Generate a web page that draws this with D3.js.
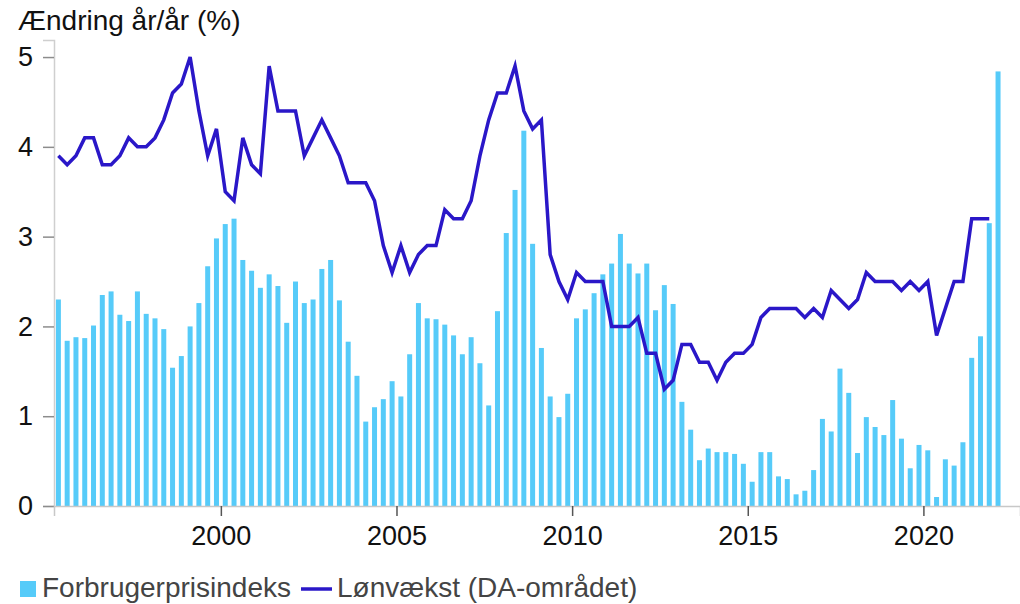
<!DOCTYPE html>
<html>
<head>
<meta charset="utf-8">
<script src="https://cdn.jsdelivr.net/npm/d3@7"></script>
<style>
  body { margin: 0; background: #fff; }
  svg text { font-family: "Liberation Sans", Arial, sans-serif; }
</style>
</head>
<body>
<div id="main"></div>
<script>
// quarterly, first bar = 1995 Q2
var startYear = 1995, startQuarter = 2;

var cpi = [2.30, 1.84, 1.88, 1.87, 2.01, 2.35, 2.39, 2.13, 2.06, 2.39,
  2.14, 2.09, 1.97, 1.54, 1.67, 2.00, 2.26, 2.67, 2.98, 3.14,
  3.20, 2.74, 2.62, 2.43, 2.58, 2.45, 2.04, 2.50, 2.26, 2.30,
  2.64, 2.74, 2.29, 1.83, 1.45, 0.94, 1.10, 1.19, 1.39, 1.22,
  1.69, 2.26, 2.09, 2.08, 2.02, 1.90, 1.69, 1.88, 1.59, 1.12,
  2.17, 3.04, 3.52, 4.18, 2.92, 1.76, 1.22, 0.99, 1.25, 2.09,
  2.19, 2.37, 2.58, 2.70, 3.03, 2.70, 2.59, 2.70, 2.18, 2.46,
  2.25, 1.16, 0.85, 0.51, 0.64, 0.60, 0.60, 0.58, 0.47, 0.27,
  0.60, 0.60, 0.33, 0.30, 0.13, 0.17, 0.40, 0.97, 0.83, 1.53,
  1.26, 0.59, 0.99, 0.88, 0.79, 1.18, 0.75, 0.42, 0.68, 0.62,
  0.10, 0.52, 0.45, 0.71, 1.65, 1.89, 3.15, 4.84];

var wages = [3.9, 3.8, 3.9, 4.1, 4.1, 3.8, 3.8, 3.9, 4.1, 4.0,
  4.0, 4.1, 4.3, 4.6, 4.7, 5.0, 4.4, 3.9, 4.2, 3.5,
  3.4, 4.1, 3.8, 3.7, 4.9, 4.4, 4.4, 4.4, 3.9, 4.1,
  4.3, 4.1, 3.9, 3.6, 3.6, 3.6, 3.4, 2.9, 2.6, 2.9,
  2.6, 2.8, 2.9, 2.9, 3.3, 3.2, 3.2, 3.4, 3.9, 4.3,
  4.6, 4.6, 4.9, 4.4, 4.2, 4.3, 2.8, 2.5, 2.3, 2.6,
  2.5, 2.5, 2.5, 2.0, 2.0, 2.0, 2.1, 1.7, 1.7, 1.3,
  1.4, 1.8, 1.8, 1.6, 1.6, 1.4, 1.6, 1.7, 1.7, 1.8,
  2.1, 2.2, 2.2, 2.2, 2.2, 2.1, 2.2, 2.1, 2.4, 2.3,
  2.2, 2.3, 2.6, 2.5, 2.5, 2.5, 2.4, 2.5, 2.4, 2.5,
  1.9, 2.2, 2.5, 2.5, 3.2, 3.2, 3.2];

var yTicks = [0, 1, 2, 3, 4, 5];
var xTicks = [2000, 2005, 2010, 2015, 2020];
var seriesNames = ["Forbrugerprisindeks", "Lønvækst (DA-området)"];
var barColor = "#56cbf9", lineColor = "#2a17c8";

var width = 1020, height = 604;
var margin = { top: 40, right: 0, bottom: 98, left: 54 };
var fontSize = "27px", bigFont = "28px";

// mid-quarter time of the i-th observation
function qTime(i) {
  var q = startQuarter - 1 + i;
  return startYear + Math.floor(q / 4) + ((q % 4) + 0.5) / 4;
}

var svg = d3.select('#main')
  .append("svg")
  .attr('width', width)
  .attr('height', height);

var x = d3.scaleLinear()
  .domain([1995.25, 2022.75])
  .range([margin.left, width - margin.right]);

var y = d3.scaleLinear()
  .domain([0, 5.19])
  .range([height - margin.bottom, margin.top]);

// bars
svg.append("g")
  .selectAll("rect")
  .data(cpi)
  .enter()
  .append("rect")
  .attr("x", (d, i) => x(qTime(i)) - 2.5)
  .attr("y", d => y(d))
  .attr("width", 5)
  .attr("height", d => y(0) - y(d))
  .attr("fill", barColor);

// wage line
var line = d3.line()
  .x((d, i) => x(qTime(i)))
  .y(d => y(d));

svg.append("path")
  .datum(wages)
  .attr("d", line)
  .attr("fill", "none")
  .attr("stroke", lineColor)
  .attr("stroke-width", 3.5)
  .attr("stroke-linejoin", "miter");

// y axis
var yAxis = svg.append("g")
  .attr("transform", "translate(" + margin.left + ",0)")
  .call(d3.axisLeft(y).tickValues(yTicks).tickSize(11).tickPadding(10).tickFormat(d3.format("d")));
yAxis.select(".domain").attr("stroke", "#cfcfcf").attr("stroke-width", 1.5);
yAxis.selectAll(".tick line").attr("stroke", "#8c8c8c").attr("stroke-width", 1.5);
yAxis.selectAll("text")
  .style("font-size", fontSize)
  .attr("fill", "#111");

// x axis
var xAxis = svg.append("g")
  .attr("transform", "translate(0," + y(0) + ")")
  .call(d3.axisBottom(x).tickValues(xTicks).tickSize(10).tickPadding(10).tickFormat(d3.format("d")));
xAxis.select(".domain").attr("stroke", "#c8c8c8").attr("stroke-width", 1.5);
xAxis.selectAll(".tick line").attr("stroke", "#555").attr("stroke-width", 1.5);
xAxis.selectAll("text")
  .style("font-size", fontSize)
  .attr("fill", "#111");

// title
svg.append("text")
  .attr("x", 18)
  .attr("y", 30)
  .style("font-size", bigFont)
  .attr("fill", "#111")
  .text("Ændring år/år (%)");

// legend
var legend = svg.append("g").attr("transform", "translate(20,589)");
legend.append("rect")
  .attr("x", 0).attr("y", -8)
  .attr("width", 16).attr("height", 16)
  .attr("fill", barColor);
legend.append("text")
  .attr("x", 22).attr("y", 8)
  .style("font-size", bigFont)
  .attr("fill", "#444")
  .text(seriesNames[0]);
legend.append("line")
  .attr("x1", 281).attr("x2", 312)
  .attr("y1", 0).attr("y2", 0)
  .attr("stroke", lineColor)
  .attr("stroke-width", 3.5);
legend.append("text")
  .attr("x", 317).attr("y", 8)
  .style("font-size", bigFont)
  .attr("fill", "#444")
  .text(seriesNames[1]);
</script>
</body>
</html>
